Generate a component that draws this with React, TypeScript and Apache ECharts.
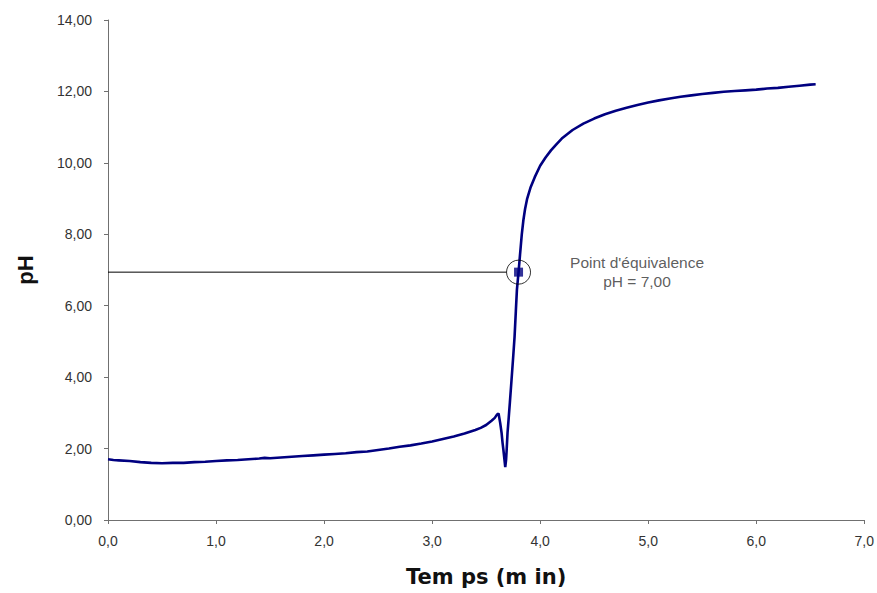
import React, { useEffect, useRef } from "react";
import * as echarts from "echarts";

const timeMin: number[] = [
  0.0, 0.05, 0.1, 0.2, 0.3, 0.4, 0.5, 0.6, 0.7, 0.8, 0.9, 1.0, 1.1, 1.2, 1.3, 1.4, 1.45, 1.5,
  1.6, 1.7, 1.8, 1.9, 2.0, 2.1, 2.2, 2.3, 2.4, 2.5, 2.6, 2.7, 2.8, 2.9, 3.0, 3.1, 3.2, 3.3,
  3.4, 3.45, 3.5, 3.55, 3.58, 3.6, 3.615, 3.63, 3.643, 3.652, 3.66, 3.67, 3.677, 3.685, 3.69,
  3.698, 3.71, 3.72, 3.735, 3.75, 3.763, 3.775, 3.785, 3.8, 3.81, 3.82, 3.83, 3.845, 3.86,
  3.88, 3.91, 3.95, 4.0, 4.05, 4.1, 4.15, 4.2, 4.25, 4.3, 4.4, 4.5, 4.6, 4.7, 4.8, 4.9, 5.0,
  5.1, 5.2, 5.3, 5.4, 5.5, 5.6, 5.7, 5.8, 5.9, 6.0, 6.1, 6.2, 6.3, 6.4, 6.5, 6.55,
];

const phValues: number[] = [
  1.7, 1.68, 1.67, 1.65, 1.62, 1.6, 1.59, 1.6, 1.6, 1.62, 1.63, 1.65, 1.67, 1.68, 1.7, 1.72,
  1.74, 1.73, 1.75, 1.77, 1.79, 1.81, 1.83, 1.85, 1.87, 1.9, 1.92, 1.96, 2.0, 2.05, 2.09,
  2.14, 2.2, 2.27, 2.34, 2.42, 2.52, 2.58, 2.66, 2.78, 2.86, 2.95, 2.98, 2.72, 2.44, 2.16,
  1.96, 1.68, 1.48, 1.7, 1.96, 2.44, 2.9, 3.3, 3.92, 4.55, 5.12, 5.85, 6.45, 6.94, 7.3, 7.65,
  8.0, 8.4, 8.7, 9.0, 9.3, 9.6, 9.92, 10.15, 10.35, 10.52, 10.68, 10.8, 10.92, 11.1, 11.24,
  11.36, 11.46, 11.54, 11.62, 11.69, 11.75, 11.8, 11.85, 11.89, 11.93, 11.96, 11.99, 12.01,
  12.03, 12.05, 12.08, 12.1, 12.13, 12.16, 12.19, 12.2,
];

const equivalencePoint: [number, number] = [3.8, 6.94];
const guideLine: [number, number][] = [
  [0, 6.94],
  [3.69, 6.94],
];
const equivalenceLabel = "Point d'équivalence\npH = 7,00";

const xTicks = { min: 0, max: 7, interval: 1 };
const yTicks = { min: 0, max: 14, interval: 2 };

export default function App() {
  const ref = useRef<HTMLDivElement>(null);

  useEffect(() => {
    if (!ref.current) return;
    const chart = echarts.init(ref.current, null, { renderer: "svg" });
    const curve = timeMin.map((t, i) => [t, phValues[i]]);
    const axisColor = "#707070";
    const textColor = "#333";
    const font = "'Liberation Sans', Arial, sans-serif";

    chart.setOption({
      animation: false,
      backgroundColor: "#fff",
      grid: { left: 108, right: 10, top: 20, bottom: 73, containLabel: false },
      xAxis: {
        type: "value",
        min: xTicks.min,
        max: xTicks.max,
        interval: xTicks.interval,
        name: "Tem ps (m in)",
        nameLocation: "middle",
        nameGap: 46,
        nameTextStyle: {
          fontSize: 21,
          fontWeight: "bold",
          color: "#111",
          fontFamily: "'DejaVu Sans', sans-serif",
        },
        axisLine: { show: true, lineStyle: { color: axisColor, width: 1 } },
        axisTick: { show: true, length: 4, lineStyle: { color: axisColor } },
        splitLine: { show: false },
        axisLabel: {
          margin: 14,
          fontSize: 14,
          color: textColor,
          fontFamily: font,
          formatter: (v: number) => v.toFixed(1).replace(".", ","),
        },
      },
      yAxis: {
        type: "value",
        min: yTicks.min,
        max: yTicks.max,
        interval: yTicks.interval,
        name: "pH",
        nameLocation: "middle",
        nameGap: 72,
        nameRotate: 90,
        nameTextStyle: {
          fontSize: 22,
          fontWeight: "bold",
          color: "#111",
          fontFamily: font,
        },
        axisLine: { show: true, lineStyle: { color: axisColor, width: 1 } },
        axisTick: { show: true, length: 4, lineStyle: { color: axisColor } },
        splitLine: { show: false },
        axisLabel: {
          margin: 16,
          fontSize: 14,
          color: textColor,
          fontFamily: font,
          formatter: (v: number) => v.toFixed(2).replace(".", ","),
        },
      },
      series: [
        {
          type: "line",
          data: guideLine,
          showSymbol: false,
          lineStyle: { color: "#000", width: 1 },
          z: 2,
        },
        {
          type: "line",
          data: curve,
          showSymbol: false,
          lineStyle: { color: "#000080", width: 2.6 },
          z: 3,
        },
        {
          type: "scatter",
          data: [equivalencePoint],
          symbol: "circle",
          symbolSize: 24,
          itemStyle: { color: "rgba(255,255,255,0)", borderColor: "#000", borderWidth: 1 },
          z: 4,
        },
        {
          type: "scatter",
          data: [equivalencePoint],
          symbol: "rect",
          symbolSize: 9,
          itemStyle: { color: "#000080" },
          z: 5,
          label: {
            show: true,
            position: "right",
            distance: 114,
            align: "center",
            verticalAlign: "middle",
            formatter: equivalenceLabel,
            fontSize: 15.5,
            lineHeight: 19,
            color: textColor,
            fontFamily: font,
          },
        },
      ],
    });
    return () => chart.dispose();
  }, []);

  return (
    <div
      ref={ref}
      style={{ position: "fixed", left: 0, top: 0, width: 877, height: 593, background: "#fff" }}
    />
  );
}
